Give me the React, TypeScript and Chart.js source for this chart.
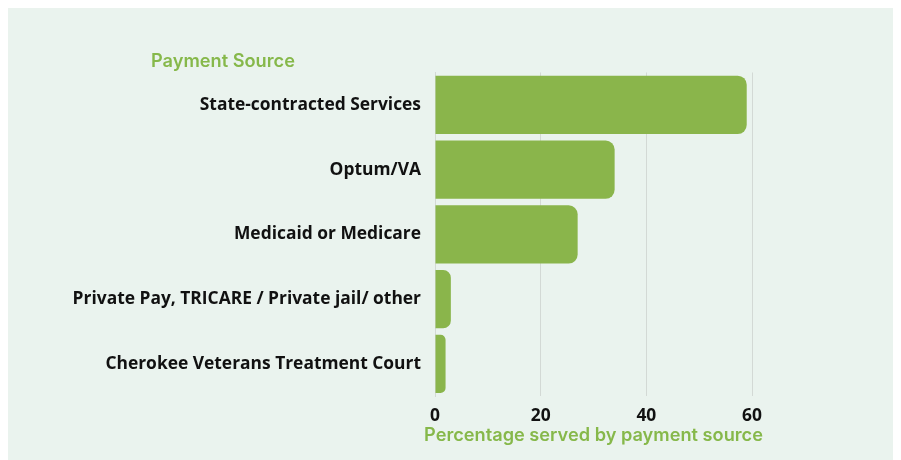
import React, { useEffect, useRef } from "react";
import { Chart, registerables } from "chart.js";

Chart.register(...registerables);

const categories = [
  "State-contracted Services",
  "Optum/VA",
  "Medicaid or Medicare",
  "Private Pay, TRICARE / Private jail/ other",
  "Cherokee Veterans Treatment Court",
];
const percentages = [59, 34, 27, 3, 2];
const xTicks = [0, 20, 40, 60];
const yAxisTitle = "Payment Source";
const xAxisTitle = "Percentage served by payment source";

const GREEN = "#8ab54b";
const TITLE_GREEN = "#86b84a";
const PANEL = "#eaf3ee";

export default function App() {
  const ref = useRef<HTMLCanvasElement | null>(null);
  useEffect(() => {
    if (!ref.current) return;
    const titles = {
      id: "titles",
      afterDraw(chart: any) {
        const ctx = chart.ctx;
        const area = chart.chartArea;
        ctx.save();
        ctx.font = "600 18.2px Inter, 'Open Sans', sans-serif";
        ctx.fillStyle = TITLE_GREEN;
        ctx.textBaseline = "middle";
        ctx.textAlign = "left";
        ctx.fillText(yAxisTitle, 143, 54);
        ctx.textAlign = "center";
        ctx.fillText(xAxisTitle, (area.left + area.right) / 2, area.bottom + 39);
        ctx.restore();
      },
    };
    const chart = new Chart(ref.current, {
      type: "bar",
      data: {
        labels: categories,
        datasets: [
          {
            data: percentages,
            backgroundColor: GREEN,
            borderRadius: 9,
            borderSkipped: "start",
            barPercentage: 0.9,
            categoryPercentage: 1,
          },
        ],
      },
      options: {
        indexAxis: "y",
        animation: false,
        responsive: false,
        maintainAspectRatio: false,
        layout: { padding: { top: 64.5, right: 144, left: 0, bottom: 0 } },
        plugins: { legend: { display: false }, tooltip: { enabled: false } },
        scales: {
          x: {
            min: 0,
            max: 60,
            afterBuildTicks(axis: any) {
              axis.ticks = xTicks.map((v) => ({ value: v }));
            },
            afterFit(axis: any) {
              axis.height = 63.7;
            },
            grid: { color: "#d3d9d5", lineWidth: 1, drawTicks: false },
            border: { display: false },
            ticks: {
              padding: 9,
              color: "#111111",
              font: { family: "'Open Sans'", weight: "bold", size: 17.4 },
            },
            title: { display: false },
          },
          y: {
            afterFit(axis: any) {
              axis.width = 427;
            },
            grid: { display: false, drawTicks: false },
            border: { display: true, color: "#d3d9d5" },
            ticks: {
              padding: 14,
              color: "#111111",
              font: { family: "'Open Sans'", weight: "bold", size: 17.4 },
            },
          },
        },
      },
      plugins: [titles],
    });
    return () => chart.destroy();
  }, []);
  return (
    <div style={{ width: 888, height: 452, background: PANEL }}>
      <canvas ref={ref} width={888} height={452} style={{ display: "block" }} />
    </div>
  );
}
